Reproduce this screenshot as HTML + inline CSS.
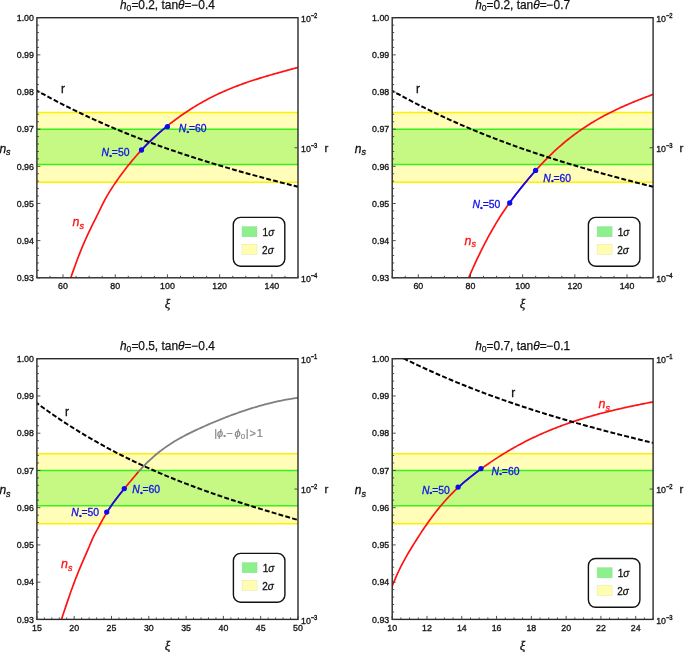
<!DOCTYPE html><html><head><meta charset="utf-8"><style>
html,body{margin:0;padding:0;background:#fff;overflow:hidden;width:685px;height:652px;}
svg{display:block;will-change:transform;filter:blur(0.3px);} text{font-family:"Liberation Sans", sans-serif;}
.tk{font-size:9.8px;fill:#151515;stroke:#151515;stroke-width:0.35px;} .ax{font-size:12px;fill:#111;stroke:#111;stroke-width:0.3px;} .it{font-style:italic;} .ti{font-size:11.9px;fill:#111;stroke:#111;stroke-width:0.25px;} .lg{font-size:10px;fill:#111;stroke:#111;stroke-width:0.3px;}
.cl{font-size:10.4px;fill:#1010ee;stroke:#1010ee;stroke-width:0.3px;} 
</style></head><body>
<svg width="685" height="652" viewBox="0 0 685 652">
<clipPath id="c1"><rect x="36.9" y="17.7" width="261.10" height="260.10"/></clipPath>
<rect x="36.9" y="112.45" width="261.10" height="69.86" fill="#fffdb8"/>
<rect x="36.9" y="129.17" width="261.10" height="35.30" fill="#c5f984"/>
<line x1="36.9" x2="298.0" y1="112.45" y2="112.45" stroke="#fff000" stroke-width="1.5"/>
<line x1="36.9" x2="298.0" y1="182.31" y2="182.31" stroke="#fff000" stroke-width="1.5"/>
<line x1="36.9" x2="298.0" y1="129.17" y2="129.17" stroke="#3cee1c" stroke-width="1.5"/>
<line x1="36.9" x2="298.0" y1="164.47" y2="164.47" stroke="#3cee1c" stroke-width="1.5"/>
<g clip-path="url(#c1)">
<path d="M66.00,291.09 L67.51,286.93 L69.02,282.70 L70.53,278.43 L72.04,274.15 L73.55,269.88 L75.06,265.67 L76.57,261.53 L78.08,257.49 L79.59,253.59 L81.10,249.82 L82.61,246.18 L84.12,242.66 L85.63,239.24 L87.14,235.92 L88.65,232.69 L90.15,229.55 L91.66,226.46 L93.17,223.41 L94.68,220.38 L96.19,217.33 L97.70,214.25 L99.21,211.13 L100.72,208.03 L102.23,204.98 L103.74,202.01 L105.25,199.16 L106.76,196.45 L108.27,193.86 L109.78,191.37 L111.29,188.97 L112.80,186.65 L114.31,184.39 L115.82,182.18 L117.33,180.01 L118.84,177.88 L120.35,175.78 L121.86,173.72 L123.37,171.70 L124.88,169.71 L126.39,167.76 L127.90,165.84 L129.41,163.96 L130.92,162.11 L132.43,160.29 L133.94,158.51 L135.45,156.75 L136.95,155.03 L138.46,153.34 L139.97,151.67 L141.48,150.04 L142.99,148.43 L144.50,146.85 L146.01,145.30 L147.52,143.78 L149.03,142.28 L150.54,140.81 L152.05,139.36 L153.56,137.93 L155.07,136.53 L156.58,135.16 L158.09,133.80 L159.60,132.47 L161.11,131.16 L162.62,129.87 L164.13,128.59 L165.64,127.34 L167.15,126.11 L168.66,124.89 L170.17,123.70 L171.68,122.52 L173.19,121.36 L174.70,120.21 L176.21,119.08 L177.72,117.98 L179.23,116.88 L180.74,115.81 L182.25,114.75 L183.75,113.70 L185.26,112.68 L186.77,111.67 L188.28,110.67 L189.79,109.69 L191.30,108.73 L192.81,107.78 L194.32,106.85 L195.83,105.93 L197.34,105.02 L198.85,104.13 L200.36,103.26 L201.87,102.40 L203.38,101.55 L204.89,100.72 L206.40,99.90 L207.91,99.10 L209.42,98.31 L210.93,97.53 L212.44,96.77 L213.95,96.01 L215.46,95.28 L216.97,94.55 L218.48,93.83 L219.99,93.13 L221.50,92.44 L223.01,91.77 L224.52,91.10 L226.03,90.44 L227.54,89.80 L229.05,89.17 L230.55,88.54 L232.06,87.93 L233.57,87.33 L235.08,86.74 L236.59,86.15 L238.10,85.58 L239.61,85.01 L241.12,84.46 L242.63,83.91 L244.14,83.37 L245.65,82.84 L247.16,82.32 L248.67,81.80 L250.18,81.29 L251.69,80.79 L253.20,80.29 L254.71,79.81 L256.22,79.32 L257.73,78.85 L259.24,78.38 L260.75,77.91 L262.26,77.45 L263.77,76.99 L265.28,76.54 L266.79,76.10 L268.30,75.65 L269.81,75.22 L271.32,74.78 L272.83,74.35 L274.34,73.92 L275.85,73.50 L277.35,73.07 L278.86,72.65 L280.37,72.24 L281.88,71.82 L283.39,71.41 L284.90,70.99 L286.41,70.58 L287.92,70.17 L289.43,69.76 L290.94,69.35 L292.45,68.94 L293.96,68.53 L295.47,68.12 L296.98,67.71 L298.49,67.29 L300.00,66.88" stroke="#ff1212" stroke-width="1.7" fill="none" stroke-linejoin="round"/>
<path d="M141.50,150.02 L143.12,148.30 L144.74,146.61 L146.36,144.95 L147.97,143.33 L149.59,141.73 L151.21,140.16 L152.83,138.62 L154.45,137.11 L156.07,135.62 L157.69,134.16 L159.31,132.73 L160.93,131.32 L162.54,129.93 L164.16,128.57 L165.78,127.22 L167.40,125.90" stroke="#0c0cf0" stroke-width="1.7" fill="none" stroke-linejoin="round"/>
<path d="M35.00,89.54 L36.78,90.54 L38.55,91.54 L40.33,92.52 L42.10,93.51 L43.88,94.48 L45.66,95.45 L47.43,96.41 L49.21,97.37 L50.98,98.32 L52.76,99.26 L54.53,100.20 L56.31,101.13 L58.09,102.05 L59.86,102.97 L61.64,103.88 L63.41,104.79 L65.19,105.69 L66.97,106.58 L68.74,107.47 L70.52,108.35 L72.29,109.23 L74.07,110.10 L75.84,110.96 L77.62,111.82 L79.40,112.68 L81.17,113.52 L82.95,114.36 L84.72,115.20 L86.50,116.03 L88.28,116.86 L90.05,117.68 L91.83,118.49 L93.60,119.30 L95.38,120.10 L97.15,120.90 L98.93,121.69 L100.71,122.48 L102.48,123.26 L104.26,124.04 L106.03,124.81 L107.81,125.58 L109.59,126.34 L111.36,127.10 L113.14,127.85 L114.91,128.60 L116.69,129.34 L118.46,130.08 L120.24,130.81 L122.02,131.54 L123.79,132.27 L125.57,132.99 L127.34,133.70 L129.12,134.41 L130.90,135.12 L132.67,135.82 L134.45,136.51 L136.22,137.20 L138.00,137.89 L139.77,138.58 L141.55,139.25 L143.33,139.93 L145.10,140.60 L146.88,141.27 L148.65,141.93 L150.43,142.59 L152.21,143.24 L153.98,143.89 L155.76,144.54 L157.53,145.18 L159.31,145.82 L161.08,146.45 L162.86,147.08 L164.64,147.71 L166.41,148.33 L168.19,148.95 L169.96,149.57 L171.74,150.18 L173.52,150.79 L175.29,151.40 L177.07,152.00 L178.84,152.60 L180.62,153.19 L182.39,153.79 L184.17,154.37 L185.95,154.96 L187.72,155.54 L189.50,156.12 L191.27,156.70 L193.05,157.27 L194.83,157.84 L196.60,158.41 L198.38,158.97 L200.15,159.53 L201.93,160.09 L203.70,160.64 L205.48,161.20 L207.26,161.75 L209.03,162.29 L210.81,162.84 L212.58,163.38 L214.36,163.92 L216.14,164.45 L217.91,164.99 L219.69,165.52 L221.46,166.05 L223.24,166.57 L225.01,167.09 L226.79,167.62 L228.57,168.13 L230.34,168.65 L232.12,169.16 L233.89,169.67 L235.67,170.18 L237.45,170.69 L239.22,171.19 L241.00,171.70 L242.77,172.20 L244.55,172.69 L246.32,173.19 L248.10,173.68 L249.88,174.17 L251.65,174.66 L253.43,175.15 L255.20,175.63 L256.98,176.12 L258.76,176.60 L260.53,177.08 L262.31,177.55 L264.08,178.03 L265.86,178.50 L267.63,178.97 L269.41,179.44 L271.19,179.91 L272.96,180.38 L274.74,180.84 L276.51,181.30 L278.29,181.76 L280.07,182.22 L281.84,182.68 L283.62,183.14 L285.39,183.59 L287.17,184.04 L288.94,184.49 L290.72,184.94 L292.50,185.39 L294.27,185.84 L296.05,186.28 L297.82,186.73 L299.60,187.17" stroke="#000" stroke-width="2" fill="none" stroke-dasharray="4.9,2.2"/>
</g>
<rect x="36.9" y="17.7" width="261.10" height="260.10" fill="none" stroke="#2a2a2a" stroke-width="1.4"/>
<path d="M36.9,277.80h3.5M36.9,270.37h2.0M36.9,262.94h2.0M36.9,255.51h2.0M36.9,248.07h2.0M36.9,240.64h3.5M36.9,233.21h2.0M36.9,225.78h2.0M36.9,218.35h2.0M36.9,210.92h2.0M36.9,203.49h3.5M36.9,196.05h2.0M36.9,188.62h2.0M36.9,181.19h2.0M36.9,173.76h2.0M36.9,166.33h3.5M36.9,158.90h2.0M36.9,151.47h2.0M36.9,144.03h2.0M36.9,136.60h2.0M36.9,129.17h3.5M36.9,121.74h2.0M36.9,114.31h2.0M36.9,106.88h2.0M36.9,99.45h2.0M36.9,92.01h3.5M36.9,84.58h2.0M36.9,77.15h2.0M36.9,69.72h2.0M36.9,62.29h2.0M36.9,54.86h3.5M36.9,47.43h2.0M36.9,39.99h2.0M36.9,32.56h2.0M36.9,25.13h2.0M36.9,17.70h3.5M36.90,277.8v-2.0M49.95,277.8v-2.0M63.01,277.8v-3.5M76.06,277.8v-2.0M89.12,277.8v-2.0M102.18,277.8v-2.0M115.23,277.8v-3.5M128.28,277.8v-2.0M141.34,277.8v-2.0M154.40,277.8v-2.0M167.45,277.8v-3.5M180.51,277.8v-2.0M193.56,277.8v-2.0M206.62,277.8v-2.0M219.67,277.8v-3.5M232.73,277.8v-2.0M245.78,277.8v-2.0M258.83,277.8v-2.0M271.89,277.8v-3.5M284.94,277.8v-2.0M298.00,277.8v-2.0M298.0,147.75h-3.5" stroke="#3c3c3c" stroke-width="0.9" fill="none"/>
<text transform="translate(33.90,281.10) scale(0.9,1)" text-anchor="end" class="tk">0.93</text>
<text transform="translate(33.90,243.94) scale(0.9,1)" text-anchor="end" class="tk">0.94</text>
<text transform="translate(33.90,206.79) scale(0.9,1)" text-anchor="end" class="tk">0.95</text>
<text transform="translate(33.90,169.63) scale(0.9,1)" text-anchor="end" class="tk">0.96</text>
<text transform="translate(33.90,132.47) scale(0.9,1)" text-anchor="end" class="tk">0.97</text>
<text transform="translate(33.90,95.31) scale(0.9,1)" text-anchor="end" class="tk">0.98</text>
<text transform="translate(33.90,58.16) scale(0.9,1)" text-anchor="end" class="tk">0.99</text>
<text transform="translate(33.90,21.00) scale(0.9,1)" text-anchor="end" class="tk">1.00</text>
<text transform="translate(63.01,289.20) scale(0.9,1)" text-anchor="middle" class="tk">60</text>
<text transform="translate(115.23,289.20) scale(0.9,1)" text-anchor="middle" class="tk">80</text>
<text transform="translate(167.45,289.20) scale(0.9,1)" text-anchor="middle" class="tk">100</text>
<text transform="translate(219.67,289.20) scale(0.9,1)" text-anchor="middle" class="tk">120</text>
<text transform="translate(271.89,289.20) scale(0.9,1)" text-anchor="middle" class="tk">140</text>
<text transform="translate(301.10,21.90) scale(0.9,1)" class="tk">10<tspan dy="-3.8" font-size="6.6" dx="0.2">&#8722;</tspan><tspan font-size="6.6" dx="-0.5">2</tspan></text>
<text transform="translate(301.10,151.95) scale(0.9,1)" class="tk">10<tspan dy="-3.8" font-size="6.6" dx="0.2">&#8722;</tspan><tspan font-size="6.6" dx="-0.5">3</tspan></text>
<text transform="translate(301.10,282.00) scale(0.9,1)" class="tk">10<tspan dy="-3.8" font-size="6.6" dx="0.2">&#8722;</tspan><tspan font-size="6.6" dx="-0.5">4</tspan></text>
<text x="324.50" y="151.85" class="ax" style="font-size:11.5px">r</text>
<text x="-0.60" y="152.55" class="ax it">n<tspan font-size="9" dy="2.8">s</tspan></text>
<text x="167.45" y="308.00" text-anchor="middle" class="ax it" style="font-family:'Liberation Serif',serif;font-size:13px">&#958;</text>
<text x="167.45" y="9.00" text-anchor="middle" class="ti"><tspan font-style="italic">h</tspan><tspan font-size="8.6" dy="2.3">0</tspan><tspan dy="-2.3">=</tspan>0.2, tan<tspan font-style="italic">&#952;</tspan>=&#8722;0.4</text>
<rect x="233.3" y="217.4" width="51.5" height="48.8" rx="7.2" ry="7.2" fill="#fff" stroke="#111" stroke-width="1.4"/>
<rect x="242.00" y="226.60" width="15" height="10.2" fill="#8cf08c" stroke="#9ad89a" stroke-width="0.4"/>
<rect x="242.00" y="244.20" width="15" height="10.2" fill="#fffdb0" stroke="#e0e0a0" stroke-width="0.4"/>
<text x="262.60" y="236.30" class="lg">1<tspan font-style="italic">&#963;</tspan></text>
<text x="262.10" y="253.60" class="lg">2<tspan font-style="italic">&#963;</tspan></text>
<circle cx="141.5" cy="150.0" r="2.65" fill="#0c0cf0"/>
<circle cx="167.4" cy="126.7" r="2.65" fill="#0c0cf0"/>
<clipPath id="c2"><rect x="392.2" y="17.7" width="260.90" height="260.10"/></clipPath>
<rect x="392.2" y="112.45" width="260.90" height="69.86" fill="#fffdb8"/>
<rect x="392.2" y="129.17" width="260.90" height="35.30" fill="#c5f984"/>
<line x1="392.2" x2="653.1" y1="112.45" y2="112.45" stroke="#fff000" stroke-width="1.5"/>
<line x1="392.2" x2="653.1" y1="182.31" y2="182.31" stroke="#fff000" stroke-width="1.5"/>
<line x1="392.2" x2="653.1" y1="129.17" y2="129.17" stroke="#3cee1c" stroke-width="1.5"/>
<line x1="392.2" x2="653.1" y1="164.47" y2="164.47" stroke="#3cee1c" stroke-width="1.5"/>
<g clip-path="url(#c2)">
<path d="M464.00,288.96 L465.52,285.28 L467.03,281.65 L468.55,278.09 L470.06,274.58 L471.58,271.13 L473.10,267.74 L474.61,264.41 L476.13,261.13 L477.64,257.92 L479.16,254.76 L480.67,251.65 L482.19,248.61 L483.71,245.61 L485.22,242.68 L486.74,239.80 L488.25,236.97 L489.77,234.20 L491.29,231.49 L492.80,228.82 L494.32,226.21 L495.83,223.66 L497.35,221.16 L498.87,218.71 L500.38,216.31 L501.90,213.96 L503.41,211.67 L504.93,209.42 L506.44,207.23 L507.96,205.08 L509.48,202.96 L510.99,200.89 L512.51,198.84 L514.02,196.83 L515.54,194.84 L517.06,192.89 L518.57,190.95 L520.09,189.04 L521.60,187.16 L523.12,185.29 L524.63,183.43 L526.15,181.60 L527.67,179.78 L529.18,177.99 L530.70,176.21 L532.21,174.45 L533.73,172.71 L535.25,171.00 L536.76,169.30 L538.28,167.63 L539.79,165.97 L541.31,164.34 L542.83,162.74 L544.34,161.15 L545.86,159.59 L547.37,158.05 L548.89,156.54 L550.40,155.05 L551.92,153.59 L553.44,152.15 L554.95,150.74 L556.47,149.34 L557.98,147.98 L559.50,146.63 L561.02,145.31 L562.53,144.01 L564.05,142.73 L565.56,141.47 L567.08,140.24 L568.60,139.02 L570.11,137.83 L571.63,136.65 L573.14,135.50 L574.66,134.37 L576.17,133.25 L577.69,132.16 L579.21,131.08 L580.72,130.02 L582.24,128.98 L583.75,127.96 L585.27,126.95 L586.79,125.96 L588.30,124.99 L589.82,124.03 L591.33,123.09 L592.85,122.17 L594.37,121.26 L595.88,120.37 L597.40,119.49 L598.91,118.62 L600.43,117.77 L601.94,116.93 L603.46,116.11 L604.98,115.30 L606.49,114.50 L608.01,113.71 L609.52,112.94 L611.04,112.17 L612.56,111.42 L614.07,110.68 L615.59,109.95 L617.10,109.23 L618.62,108.53 L620.13,107.83 L621.65,107.14 L623.17,106.45 L624.68,105.78 L626.20,105.12 L627.71,104.46 L629.23,103.81 L630.75,103.17 L632.26,102.54 L633.78,101.91 L635.29,101.29 L636.81,100.67 L638.33,100.06 L639.84,99.46 L641.36,98.86 L642.87,98.27 L644.39,97.68 L645.90,97.09 L647.42,96.51 L648.94,95.93 L650.45,95.35 L651.97,94.78 L653.48,94.21 L655.00,93.64" stroke="#ff1212" stroke-width="1.7" fill="none" stroke-linejoin="round"/>
<path d="M509.70,202.65 L511.32,200.44 L512.94,198.27 L514.56,196.13 L516.17,194.02 L517.79,191.94 L519.41,189.89 L521.03,187.87 L522.65,185.86 L524.27,183.88 L525.89,181.92 L527.51,179.98 L529.12,178.06 L530.74,176.16 L532.36,174.28 L533.98,172.43 L535.60,170.60" stroke="#0c0cf0" stroke-width="1.7" fill="none" stroke-linejoin="round"/>
<path d="M390.10,89.54 L391.88,90.54 L393.65,91.54 L395.43,92.52 L397.20,93.51 L398.98,94.48 L400.76,95.45 L402.53,96.41 L404.31,97.37 L406.08,98.32 L407.86,99.26 L409.63,100.20 L411.41,101.13 L413.19,102.05 L414.96,102.97 L416.74,103.88 L418.51,104.79 L420.29,105.69 L422.07,106.58 L423.84,107.47 L425.62,108.35 L427.39,109.23 L429.17,110.10 L430.94,110.96 L432.72,111.82 L434.50,112.68 L436.27,113.52 L438.05,114.36 L439.82,115.20 L441.60,116.03 L443.38,116.86 L445.15,117.68 L446.93,118.49 L448.70,119.30 L450.48,120.10 L452.25,120.90 L454.03,121.69 L455.81,122.48 L457.58,123.26 L459.36,124.04 L461.13,124.81 L462.91,125.58 L464.69,126.34 L466.46,127.10 L468.24,127.85 L470.01,128.60 L471.79,129.34 L473.56,130.08 L475.34,130.81 L477.12,131.54 L478.89,132.27 L480.67,132.99 L482.44,133.70 L484.22,134.41 L486.00,135.12 L487.77,135.82 L489.55,136.51 L491.32,137.20 L493.10,137.89 L494.87,138.58 L496.65,139.25 L498.43,139.93 L500.20,140.60 L501.98,141.27 L503.75,141.93 L505.53,142.59 L507.31,143.24 L509.08,143.89 L510.86,144.54 L512.63,145.18 L514.41,145.82 L516.18,146.45 L517.96,147.08 L519.74,147.71 L521.51,148.33 L523.29,148.95 L525.06,149.57 L526.84,150.18 L528.62,150.79 L530.39,151.40 L532.17,152.00 L533.94,152.60 L535.72,153.19 L537.49,153.79 L539.27,154.37 L541.05,154.96 L542.82,155.54 L544.60,156.12 L546.37,156.70 L548.15,157.27 L549.93,157.84 L551.70,158.41 L553.48,158.97 L555.25,159.53 L557.03,160.09 L558.80,160.64 L560.58,161.20 L562.36,161.75 L564.13,162.29 L565.91,162.84 L567.68,163.38 L569.46,163.92 L571.24,164.45 L573.01,164.99 L574.79,165.52 L576.56,166.05 L578.34,166.57 L580.11,167.09 L581.89,167.62 L583.67,168.13 L585.44,168.65 L587.22,169.16 L588.99,169.67 L590.77,170.18 L592.55,170.69 L594.32,171.19 L596.10,171.70 L597.87,172.20 L599.65,172.69 L601.42,173.19 L603.20,173.68 L604.98,174.17 L606.75,174.66 L608.53,175.15 L610.30,175.63 L612.08,176.12 L613.86,176.60 L615.63,177.08 L617.41,177.55 L619.18,178.03 L620.96,178.50 L622.73,178.97 L624.51,179.44 L626.29,179.91 L628.06,180.38 L629.84,180.84 L631.61,181.30 L633.39,181.76 L635.17,182.22 L636.94,182.68 L638.72,183.14 L640.49,183.59 L642.27,184.04 L644.04,184.49 L645.82,184.94 L647.60,185.39 L649.37,185.84 L651.15,186.28 L652.92,186.73 L654.70,187.17" stroke="#000" stroke-width="2" fill="none" stroke-dasharray="4.9,2.2"/>
</g>
<rect x="392.2" y="17.7" width="260.90" height="260.10" fill="none" stroke="#2a2a2a" stroke-width="1.4"/>
<path d="M392.2,277.80h3.5M392.2,270.37h2.0M392.2,262.94h2.0M392.2,255.51h2.0M392.2,248.07h2.0M392.2,240.64h3.5M392.2,233.21h2.0M392.2,225.78h2.0M392.2,218.35h2.0M392.2,210.92h2.0M392.2,203.49h3.5M392.2,196.05h2.0M392.2,188.62h2.0M392.2,181.19h2.0M392.2,173.76h2.0M392.2,166.33h3.5M392.2,158.90h2.0M392.2,151.47h2.0M392.2,144.03h2.0M392.2,136.60h2.0M392.2,129.17h3.5M392.2,121.74h2.0M392.2,114.31h2.0M392.2,106.88h2.0M392.2,99.45h2.0M392.2,92.01h3.5M392.2,84.58h2.0M392.2,77.15h2.0M392.2,69.72h2.0M392.2,62.29h2.0M392.2,54.86h3.5M392.2,47.43h2.0M392.2,39.99h2.0M392.2,32.56h2.0M392.2,25.13h2.0M392.2,17.70h3.5M392.20,277.8v-2.0M405.25,277.8v-2.0M418.29,277.8v-3.5M431.33,277.8v-2.0M444.38,277.8v-2.0M457.43,277.8v-2.0M470.47,277.8v-3.5M483.51,277.8v-2.0M496.56,277.8v-2.0M509.61,277.8v-2.0M522.65,277.8v-3.5M535.70,277.8v-2.0M548.74,277.8v-2.0M561.79,277.8v-2.0M574.83,277.8v-3.5M587.88,277.8v-2.0M600.92,277.8v-2.0M613.97,277.8v-2.0M627.01,277.8v-3.5M640.06,277.8v-2.0M653.10,277.8v-2.0M653.1,147.75h-3.5" stroke="#3c3c3c" stroke-width="0.9" fill="none"/>
<text transform="translate(389.20,281.10) scale(0.9,1)" text-anchor="end" class="tk">0.93</text>
<text transform="translate(389.20,243.94) scale(0.9,1)" text-anchor="end" class="tk">0.94</text>
<text transform="translate(389.20,206.79) scale(0.9,1)" text-anchor="end" class="tk">0.95</text>
<text transform="translate(389.20,169.63) scale(0.9,1)" text-anchor="end" class="tk">0.96</text>
<text transform="translate(389.20,132.47) scale(0.9,1)" text-anchor="end" class="tk">0.97</text>
<text transform="translate(389.20,95.31) scale(0.9,1)" text-anchor="end" class="tk">0.98</text>
<text transform="translate(389.20,58.16) scale(0.9,1)" text-anchor="end" class="tk">0.99</text>
<text transform="translate(389.20,21.00) scale(0.9,1)" text-anchor="end" class="tk">1.00</text>
<text transform="translate(418.29,289.20) scale(0.9,1)" text-anchor="middle" class="tk">60</text>
<text transform="translate(470.47,289.20) scale(0.9,1)" text-anchor="middle" class="tk">80</text>
<text transform="translate(522.65,289.20) scale(0.9,1)" text-anchor="middle" class="tk">100</text>
<text transform="translate(574.83,289.20) scale(0.9,1)" text-anchor="middle" class="tk">120</text>
<text transform="translate(627.01,289.20) scale(0.9,1)" text-anchor="middle" class="tk">140</text>
<text transform="translate(656.20,21.90) scale(0.9,1)" class="tk">10<tspan dy="-3.8" font-size="6.6" dx="0.2">&#8722;</tspan><tspan font-size="6.6" dx="-0.5">2</tspan></text>
<text transform="translate(656.20,151.95) scale(0.9,1)" class="tk">10<tspan dy="-3.8" font-size="6.6" dx="0.2">&#8722;</tspan><tspan font-size="6.6" dx="-0.5">3</tspan></text>
<text transform="translate(656.20,282.00) scale(0.9,1)" class="tk">10<tspan dy="-3.8" font-size="6.6" dx="0.2">&#8722;</tspan><tspan font-size="6.6" dx="-0.5">4</tspan></text>
<text x="679.60" y="151.85" class="ax" style="font-size:11.5px">r</text>
<text x="354.70" y="152.55" class="ax it">n<tspan font-size="9" dy="2.8">s</tspan></text>
<text x="522.65" y="308.00" text-anchor="middle" class="ax it" style="font-family:'Liberation Serif',serif;font-size:13px">&#958;</text>
<text x="522.65" y="9.00" text-anchor="middle" class="ti"><tspan font-style="italic">h</tspan><tspan font-size="8.6" dy="2.3">0</tspan><tspan dy="-2.3">=</tspan>0.2, tan<tspan font-style="italic">&#952;</tspan>=&#8722;0.7</text>
<rect x="588.4" y="217.4" width="51.5" height="48.8" rx="7.2" ry="7.2" fill="#fff" stroke="#111" stroke-width="1.4"/>
<rect x="597.10" y="226.60" width="15" height="10.2" fill="#8cf08c" stroke="#9ad89a" stroke-width="0.4"/>
<rect x="597.10" y="244.20" width="15" height="10.2" fill="#fffdb0" stroke="#e0e0a0" stroke-width="0.4"/>
<text x="617.70" y="236.30" class="lg">1<tspan font-style="italic">&#963;</tspan></text>
<text x="617.20" y="253.60" class="lg">2<tspan font-style="italic">&#963;</tspan></text>
<circle cx="509.7" cy="203.0" r="2.65" fill="#0c0cf0"/>
<circle cx="535.6" cy="170.4" r="2.65" fill="#0c0cf0"/>
<clipPath id="c3"><rect x="36.9" y="358.7" width="261.10" height="260.70"/></clipPath>
<rect x="36.9" y="453.67" width="261.10" height="70.02" fill="#fffdb8"/>
<rect x="36.9" y="470.43" width="261.10" height="35.38" fill="#c5f984"/>
<line x1="36.9" x2="298.0" y1="453.67" y2="453.67" stroke="#fff000" stroke-width="1.5"/>
<line x1="36.9" x2="298.0" y1="523.69" y2="523.69" stroke="#fff000" stroke-width="1.5"/>
<line x1="36.9" x2="298.0" y1="470.43" y2="470.43" stroke="#3cee1c" stroke-width="1.5"/>
<line x1="36.9" x2="298.0" y1="505.81" y2="505.81" stroke="#3cee1c" stroke-width="1.5"/>
<g clip-path="url(#c3)">
<path d="M57.00,633.12 L58.54,628.39 L60.07,623.67 L61.61,618.98 L63.14,614.32 L64.68,609.70 L66.22,605.14 L67.75,600.63 L69.29,596.20 L70.82,591.84 L72.36,587.57 L73.89,583.39 L75.43,579.32 L76.97,575.36 L78.50,571.52 L80.04,567.80 L81.57,564.19 L83.11,560.65 L84.65,557.15 L86.18,553.65 L87.72,550.12 L89.25,546.52 L90.79,542.82 L92.32,539.14 L93.86,535.82 L95.40,532.85 L96.93,530.06 L98.47,527.33 L100.00,524.53 L101.54,521.70 L103.08,518.90 L104.61,516.21 L106.15,513.63 L107.68,511.15 L109.22,508.78 L110.75,506.48 L112.29,504.27 L113.83,502.12 L115.36,500.03 L116.90,497.99 L118.43,496.00 L119.97,494.04 L121.51,492.12 L123.04,490.23 L124.58,488.35 L126.11,486.50 L127.65,484.65 L129.18,482.82 L130.72,480.98 L132.26,479.14 L133.79,477.30 L135.33,475.47 L136.86,473.66 L138.40,471.88" stroke="#ff1212" stroke-width="1.7" fill="none" stroke-linejoin="round"/>
<path d="M138.40,471.88 L139.92,470.16 L141.45,468.49 L142.97,466.86 L144.50,465.27 L146.02,463.73 L147.55,462.23 L149.07,460.76 L150.60,459.34 L152.12,457.96 L153.65,456.61 L155.17,455.30 L156.69,454.02 L158.22,452.78 L159.74,451.57 L161.27,450.40 L162.79,449.25 L164.32,448.14 L165.84,447.05 L167.37,446.00 L168.89,444.97 L170.42,443.96 L171.94,442.98 L173.46,442.03 L174.99,441.10 L176.51,440.19 L178.04,439.30 L179.56,438.43 L181.09,437.59 L182.61,436.76 L184.14,435.94 L185.66,435.14 L187.18,434.36 L188.71,433.59 L190.23,432.84 L191.76,432.09 L193.28,431.36 L194.81,430.64 L196.33,429.92 L197.86,429.22 L199.38,428.52 L200.91,427.83 L202.43,427.14 L203.95,426.46 L205.48,425.78 L207.00,425.11 L208.53,424.45 L210.05,423.79 L211.58,423.14 L213.10,422.49 L214.63,421.85 L216.15,421.21 L217.68,420.58 L219.20,419.96 L220.72,419.34 L222.25,418.73 L223.77,418.13 L225.30,417.53 L226.82,416.94 L228.35,416.36 L229.87,415.78 L231.40,415.21 L232.92,414.65 L234.45,414.09 L235.97,413.54 L237.49,412.99 L239.02,412.46 L240.54,411.93 L242.07,411.41 L243.59,410.89 L245.12,410.38 L246.64,409.88 L248.17,409.39 L249.69,408.90 L251.22,408.42 L252.74,407.95 L254.26,407.49 L255.79,407.03 L257.31,406.58 L258.84,406.14 L260.36,405.71 L261.89,405.29 L263.41,404.87 L264.94,404.46 L266.46,404.06 L267.98,403.67 L269.51,403.28 L271.03,402.91 L272.56,402.54 L274.08,402.18 L275.61,401.83 L277.13,401.48 L278.66,401.15 L280.18,400.82 L281.71,400.51 L283.23,400.20 L284.75,399.90 L286.28,399.61 L287.80,399.33 L289.33,399.05 L290.85,398.79 L292.38,398.54 L293.90,398.29 L295.43,398.05 L296.95,397.83 L298.48,397.61 L300.00,397.40" stroke="#7f7f7f" stroke-width="1.8" fill="none" stroke-linejoin="round"/>
<path d="M106.80,512.57 L108.52,509.85 L110.24,507.24 L111.96,504.74 L113.68,502.32 L115.40,499.98 L117.12,497.70 L118.84,495.48 L120.56,493.30 L122.28,491.16 L124.00,489.05" stroke="#0c0cf0" stroke-width="1.7" fill="none" stroke-linejoin="round"/>
<path d="M35.00,401.77 L36.77,403.09 L38.55,404.40 L40.32,405.69 L42.10,406.98 L43.87,408.26 L45.65,409.53 L47.42,410.79 L49.20,412.03 L50.97,413.27 L52.74,414.50 L54.52,415.72 L56.29,416.93 L58.07,418.13 L59.84,419.32 L61.62,420.50 L63.39,421.67 L65.17,422.83 L66.94,423.98 L68.72,425.13 L70.49,426.26 L72.26,427.39 L74.04,428.50 L75.81,429.61 L77.59,430.71 L79.36,431.80 L81.14,432.88 L82.91,433.95 L84.69,435.02 L86.46,436.07 L88.23,437.12 L90.01,438.16 L91.78,439.19 L93.56,440.21 L95.33,441.22 L97.11,442.23 L98.88,443.23 L100.66,444.22 L102.43,445.20 L104.21,446.17 L105.98,447.14 L107.75,448.10 L109.53,449.05 L111.30,449.99 L113.08,450.93 L114.85,451.85 L116.63,452.78 L118.40,453.69 L120.18,454.60 L121.95,455.49 L123.72,456.39 L125.50,457.27 L127.27,458.15 L129.05,459.02 L130.82,459.88 L132.60,460.74 L134.37,461.59 L136.15,462.44 L137.92,463.27 L139.70,464.10 L141.47,464.93 L143.24,465.75 L145.02,466.56 L146.79,467.36 L148.57,468.16 L150.34,468.95 L152.12,469.74 L153.89,470.52 L155.67,471.30 L157.44,472.07 L159.21,472.83 L160.99,473.59 L162.76,474.34 L164.54,475.08 L166.31,475.82 L168.09,476.56 L169.86,477.29 L171.64,478.01 L173.41,478.73 L175.19,479.45 L176.96,480.16 L178.73,480.86 L180.51,481.56 L182.28,482.25 L184.06,482.94 L185.83,483.62 L187.61,484.30 L189.38,484.98 L191.16,485.65 L192.93,486.31 L194.70,486.97 L196.48,487.63 L198.25,488.28 L200.03,488.93 L201.80,489.57 L203.58,490.21 L205.35,490.85 L207.13,491.48 L208.90,492.11 L210.68,492.73 L212.45,493.35 L214.22,493.97 L216.00,494.58 L217.77,495.19 L219.55,495.79 L221.32,496.39 L223.10,496.99 L224.87,497.59 L226.65,498.18 L228.42,498.77 L230.19,499.35 L231.97,499.93 L233.74,500.51 L235.52,501.09 L237.29,501.66 L239.07,502.23 L240.84,502.80 L242.62,503.36 L244.39,503.92 L246.17,504.48 L247.94,505.04 L249.71,505.59 L251.49,506.15 L253.26,506.70 L255.04,507.24 L256.81,507.79 L258.59,508.33 L260.36,508.87 L262.14,509.41 L263.91,509.95 L265.68,510.48 L267.46,511.02 L269.23,511.55 L271.01,512.08 L272.78,512.61 L274.56,513.14 L276.33,513.66 L278.11,514.19 L279.88,514.71 L281.66,515.23 L283.43,515.75 L285.20,516.27 L286.98,516.79 L288.75,517.30 L290.53,517.82 L292.30,518.34 L294.08,518.85 L295.85,519.36 L297.63,519.88 L299.40,520.39" stroke="#000" stroke-width="2" fill="none" stroke-dasharray="4.9,2.2"/>
</g>
<rect x="36.9" y="358.7" width="261.10" height="260.70" fill="none" stroke="#2a2a2a" stroke-width="1.4"/>
<path d="M36.9,619.40h3.5M36.9,611.95h2.0M36.9,604.50h2.0M36.9,597.05h2.0M36.9,589.61h2.0M36.9,582.16h3.5M36.9,574.71h2.0M36.9,567.26h2.0M36.9,559.81h2.0M36.9,552.36h2.0M36.9,544.91h3.5M36.9,537.47h2.0M36.9,530.02h2.0M36.9,522.57h2.0M36.9,515.12h2.0M36.9,507.67h3.5M36.9,500.22h2.0M36.9,492.77h2.0M36.9,485.33h2.0M36.9,477.88h2.0M36.9,470.43h3.5M36.9,462.98h2.0M36.9,455.53h2.0M36.9,448.08h2.0M36.9,440.63h2.0M36.9,433.19h3.5M36.9,425.74h2.0M36.9,418.29h2.0M36.9,410.84h2.0M36.9,403.39h2.0M36.9,395.94h3.5M36.9,388.49h2.0M36.9,381.05h2.0M36.9,373.60h2.0M36.9,366.15h2.0M36.9,358.70h3.5M36.90,619.4v-3.5M44.36,619.4v-2.0M51.82,619.4v-2.0M59.28,619.4v-2.0M66.74,619.4v-2.0M74.20,619.4v-3.5M81.66,619.4v-2.0M89.12,619.4v-2.0M96.58,619.4v-2.0M104.04,619.4v-2.0M111.50,619.4v-3.5M118.96,619.4v-2.0M126.42,619.4v-2.0M133.88,619.4v-2.0M141.34,619.4v-2.0M148.80,619.4v-3.5M156.26,619.4v-2.0M163.72,619.4v-2.0M171.18,619.4v-2.0M178.64,619.4v-2.0M186.10,619.4v-3.5M193.56,619.4v-2.0M201.02,619.4v-2.0M208.48,619.4v-2.0M215.94,619.4v-2.0M223.40,619.4v-3.5M230.86,619.4v-2.0M238.32,619.4v-2.0M245.78,619.4v-2.0M253.24,619.4v-2.0M260.70,619.4v-3.5M268.16,619.4v-2.0M275.62,619.4v-2.0M283.08,619.4v-2.0M290.54,619.4v-2.0M298.00,619.4v-3.5M298.0,489.05h-3.5" stroke="#3c3c3c" stroke-width="0.9" fill="none"/>
<text transform="translate(33.90,622.70) scale(0.9,1)" text-anchor="end" class="tk">0.93</text>
<text transform="translate(33.90,585.46) scale(0.9,1)" text-anchor="end" class="tk">0.94</text>
<text transform="translate(33.90,548.21) scale(0.9,1)" text-anchor="end" class="tk">0.95</text>
<text transform="translate(33.90,510.97) scale(0.9,1)" text-anchor="end" class="tk">0.96</text>
<text transform="translate(33.90,473.73) scale(0.9,1)" text-anchor="end" class="tk">0.97</text>
<text transform="translate(33.90,436.49) scale(0.9,1)" text-anchor="end" class="tk">0.98</text>
<text transform="translate(33.90,399.24) scale(0.9,1)" text-anchor="end" class="tk">0.99</text>
<text transform="translate(33.90,362.00) scale(0.9,1)" text-anchor="end" class="tk">1.00</text>
<text transform="translate(36.90,630.80) scale(0.9,1)" text-anchor="middle" class="tk">15</text>
<text transform="translate(74.20,630.80) scale(0.9,1)" text-anchor="middle" class="tk">20</text>
<text transform="translate(111.50,630.80) scale(0.9,1)" text-anchor="middle" class="tk">25</text>
<text transform="translate(148.80,630.80) scale(0.9,1)" text-anchor="middle" class="tk">30</text>
<text transform="translate(186.10,630.80) scale(0.9,1)" text-anchor="middle" class="tk">35</text>
<text transform="translate(223.40,630.80) scale(0.9,1)" text-anchor="middle" class="tk">40</text>
<text transform="translate(260.70,630.80) scale(0.9,1)" text-anchor="middle" class="tk">45</text>
<text transform="translate(298.00,630.80) scale(0.9,1)" text-anchor="middle" class="tk">50</text>
<text transform="translate(301.10,362.90) scale(0.9,1)" class="tk">10<tspan dy="-3.8" font-size="6.6" dx="0.2">&#8722;</tspan><tspan font-size="6.6" dx="-0.5">1</tspan></text>
<text transform="translate(301.10,493.25) scale(0.9,1)" class="tk">10<tspan dy="-3.8" font-size="6.6" dx="0.2">&#8722;</tspan><tspan font-size="6.6" dx="-0.5">2</tspan></text>
<text transform="translate(301.10,623.60) scale(0.9,1)" class="tk">10<tspan dy="-3.8" font-size="6.6" dx="0.2">&#8722;</tspan><tspan font-size="6.6" dx="-0.5">3</tspan></text>
<text x="324.50" y="493.15" class="ax" style="font-size:11.5px">r</text>
<text x="-0.60" y="493.85" class="ax it">n<tspan font-size="9" dy="2.8">s</tspan></text>
<text x="167.45" y="649.60" text-anchor="middle" class="ax it" style="font-family:'Liberation Serif',serif;font-size:13px">&#958;</text>
<text x="167.45" y="350.00" text-anchor="middle" class="ti"><tspan font-style="italic">h</tspan><tspan font-size="8.6" dy="2.3">0</tspan><tspan dy="-2.3">=</tspan>0.5, tan<tspan font-style="italic">&#952;</tspan>=&#8722;0.4</text>
<rect x="233.4" y="553.4" width="51.5" height="48.8" rx="7.2" ry="7.2" fill="#fff" stroke="#111" stroke-width="1.4"/>
<rect x="242.10" y="562.60" width="15" height="10.2" fill="#8cf08c" stroke="#9ad89a" stroke-width="0.4"/>
<rect x="242.10" y="580.20" width="15" height="10.2" fill="#fffdb0" stroke="#e0e0a0" stroke-width="0.4"/>
<text x="262.70" y="572.30" class="lg">1<tspan font-style="italic">&#963;</tspan></text>
<text x="262.20" y="589.60" class="lg">2<tspan font-style="italic">&#963;</tspan></text>
<circle cx="106.7" cy="512.1" r="2.65" fill="#0c0cf0"/>
<circle cx="124.3" cy="488.6" r="2.65" fill="#0c0cf0"/>
<clipPath id="c4"><rect x="392.2" y="358.7" width="260.90" height="260.70"/></clipPath>
<rect x="392.2" y="453.67" width="260.90" height="70.02" fill="#fffdb8"/>
<rect x="392.2" y="470.43" width="260.90" height="35.38" fill="#c5f984"/>
<line x1="392.2" x2="653.1" y1="453.67" y2="453.67" stroke="#fff000" stroke-width="1.5"/>
<line x1="392.2" x2="653.1" y1="523.69" y2="523.69" stroke="#fff000" stroke-width="1.5"/>
<line x1="392.2" x2="653.1" y1="470.43" y2="470.43" stroke="#3cee1c" stroke-width="1.5"/>
<line x1="392.2" x2="653.1" y1="505.81" y2="505.81" stroke="#3cee1c" stroke-width="1.5"/>
<g clip-path="url(#c4)">
<path d="M390.00,591.85 L391.51,587.82 L393.03,583.98 L394.54,580.31 L396.06,576.81 L397.57,573.46 L399.09,570.25 L400.60,567.17 L402.11,564.21 L403.63,561.35 L405.14,558.59 L406.66,555.91 L408.17,553.30 L409.69,550.75 L411.20,548.25 L412.71,545.79 L414.23,543.36 L415.74,540.95 L417.26,538.57 L418.77,536.21 L420.29,533.89 L421.80,531.59 L423.31,529.33 L424.83,527.10 L426.34,524.90 L427.86,522.74 L429.37,520.61 L430.89,518.52 L432.40,516.46 L433.91,514.44 L435.43,512.46 L436.94,510.53 L438.46,508.63 L439.97,506.77 L441.49,504.96 L443.00,503.18 L444.51,501.45 L446.03,499.76 L447.54,498.11 L449.06,496.49 L450.57,494.91 L452.09,493.37 L453.60,491.86 L455.11,490.38 L456.63,488.93 L458.14,487.51 L459.66,486.13 L461.17,484.77 L462.69,483.43 L464.20,482.12 L465.71,480.84 L467.23,479.58 L468.74,478.34 L470.26,477.12 L471.77,475.92 L473.29,474.74 L474.80,473.58 L476.31,472.43 L477.83,471.30 L479.34,470.18 L480.86,469.07 L482.37,467.97 L483.89,466.89 L485.40,465.81 L486.91,464.75 L488.43,463.70 L489.94,462.66 L491.46,461.63 L492.97,460.61 L494.49,459.61 L496.00,458.61 L497.51,457.63 L499.03,456.65 L500.54,455.69 L502.06,454.74 L503.57,453.81 L505.09,452.88 L506.60,451.96 L508.11,451.06 L509.63,450.17 L511.14,449.29 L512.66,448.42 L514.17,447.56 L515.69,446.71 L517.20,445.88 L518.71,445.05 L520.23,444.24 L521.74,443.43 L523.26,442.64 L524.77,441.85 L526.29,441.08 L527.80,440.32 L529.31,439.57 L530.83,438.82 L532.34,438.09 L533.86,437.37 L535.37,436.65 L536.89,435.95 L538.40,435.25 L539.91,434.57 L541.43,433.89 L542.94,433.22 L544.46,432.56 L545.97,431.91 L547.49,431.27 L549.00,430.64 L550.51,430.02 L552.03,429.40 L553.54,428.79 L555.06,428.20 L556.57,427.60 L558.09,427.02 L559.60,426.45 L561.11,425.88 L562.63,425.32 L564.14,424.77 L565.66,424.22 L567.17,423.69 L568.69,423.16 L570.20,422.64 L571.71,422.12 L573.23,421.61 L574.74,421.11 L576.26,420.62 L577.77,420.13 L579.29,419.65 L580.80,419.17 L582.31,418.70 L583.83,418.24 L585.34,417.78 L586.86,417.33 L588.37,416.89 L589.89,416.45 L591.40,416.01 L592.91,415.59 L594.43,415.16 L595.94,414.75 L597.46,414.33 L598.97,413.93 L600.49,413.53 L602.00,413.13 L603.51,412.74 L605.03,412.35 L606.54,411.97 L608.06,411.59 L609.57,411.21 L611.09,410.85 L612.60,410.48 L614.11,410.12 L615.63,409.76 L617.14,409.41 L618.66,409.06 L620.17,408.71 L621.69,408.37 L623.20,408.03 L624.71,407.69 L626.23,407.36 L627.74,407.03 L629.26,406.70 L630.77,406.38 L632.29,406.06 L633.80,405.74 L635.31,405.43 L636.83,405.11 L638.34,404.80 L639.86,404.49 L641.37,404.19 L642.89,403.88 L644.40,403.58 L645.91,403.28 L647.43,402.98 L648.94,402.68 L650.46,402.39 L651.97,402.09 L653.49,401.80 L655.00,401.51" stroke="#ff1212" stroke-width="1.7" fill="none" stroke-linejoin="round"/>
<path d="M458.10,487.55 L459.74,486.05 L461.39,484.57 L463.03,483.13 L464.67,481.72 L466.31,480.34 L467.96,478.98 L469.60,477.65 L471.24,476.34 L472.89,475.05 L474.53,473.78 L476.17,472.54 L477.81,471.31 L479.46,470.09 L481.10,468.89" stroke="#0c0cf0" stroke-width="1.7" fill="none" stroke-linejoin="round"/>
<path d="M403.50,358.34 L405.18,359.17 L406.87,359.99 L408.55,360.81 L410.23,361.62 L411.92,362.43 L413.60,363.23 L415.28,364.03 L416.97,364.82 L418.65,365.61 L420.33,366.40 L422.02,367.18 L423.70,367.95 L425.38,368.72 L427.07,369.49 L428.75,370.25 L430.43,371.01 L432.11,371.76 L433.80,372.51 L435.48,373.26 L437.16,374.00 L438.85,374.74 L440.53,375.47 L442.21,376.20 L443.90,376.92 L445.58,377.64 L447.26,378.35 L448.95,379.07 L450.63,379.77 L452.31,380.48 L454.00,381.18 L455.68,381.87 L457.36,382.56 L459.05,383.25 L460.73,383.93 L462.41,384.61 L464.10,385.29 L465.78,385.96 L467.46,386.63 L469.15,387.29 L470.83,387.95 L472.51,388.61 L474.20,389.26 L475.88,389.91 L477.56,390.56 L479.24,391.20 L480.93,391.84 L482.61,392.47 L484.29,393.10 L485.98,393.73 L487.66,394.35 L489.34,394.98 L491.03,395.59 L492.71,396.21 L494.39,396.82 L496.08,397.42 L497.76,398.03 L499.44,398.63 L501.13,399.23 L502.81,399.82 L504.49,400.41 L506.18,401.00 L507.86,401.58 L509.54,402.16 L511.23,402.74 L512.91,403.32 L514.59,403.89 L516.28,404.46 L517.96,405.02 L519.64,405.59 L521.33,406.15 L523.01,406.70 L524.69,407.26 L526.38,407.81 L528.06,408.35 L529.74,408.90 L531.42,409.44 L533.11,409.98 L534.79,410.52 L536.47,411.05 L538.16,411.59 L539.84,412.11 L541.52,412.64 L543.21,413.16 L544.89,413.68 L546.57,414.20 L548.26,414.72 L549.94,415.23 L551.62,415.74 L553.31,416.25 L554.99,416.76 L556.67,417.26 L558.36,417.76 L560.04,418.26 L561.72,418.76 L563.41,419.25 L565.09,419.74 L566.77,420.23 L568.46,420.72 L570.14,421.20 L571.82,421.69 L573.51,422.17 L575.19,422.65 L576.87,423.12 L578.56,423.60 L580.24,424.07 L581.92,424.54 L583.60,425.01 L585.29,425.47 L586.97,425.94 L588.65,426.40 L590.34,426.86 L592.02,427.32 L593.70,427.78 L595.39,428.23 L597.07,428.68 L598.75,429.14 L600.44,429.59 L602.12,430.03 L603.80,430.48 L605.49,430.92 L607.17,431.37 L608.85,431.81 L610.54,432.25 L612.22,432.69 L613.90,433.12 L615.59,433.56 L617.27,433.99 L618.95,434.43 L620.64,434.86 L622.32,435.29 L624.00,435.71 L625.69,436.14 L627.37,436.57 L629.05,436.99 L630.73,437.41 L632.42,437.84 L634.10,438.26 L635.78,438.67 L637.47,439.09 L639.15,439.51 L640.83,439.93 L642.52,440.34 L644.20,440.75 L645.88,441.17 L647.57,441.58 L649.25,441.99 L650.93,442.40 L652.62,442.81 L654.30,443.22" stroke="#000" stroke-width="2" fill="none" stroke-dasharray="4.9,2.2"/>
</g>
<rect x="392.2" y="358.7" width="260.90" height="260.70" fill="none" stroke="#2a2a2a" stroke-width="1.4"/>
<path d="M392.2,619.40h3.5M392.2,611.95h2.0M392.2,604.50h2.0M392.2,597.05h2.0M392.2,589.61h2.0M392.2,582.16h3.5M392.2,574.71h2.0M392.2,567.26h2.0M392.2,559.81h2.0M392.2,552.36h2.0M392.2,544.91h3.5M392.2,537.47h2.0M392.2,530.02h2.0M392.2,522.57h2.0M392.2,515.12h2.0M392.2,507.67h3.5M392.2,500.22h2.0M392.2,492.77h2.0M392.2,485.33h2.0M392.2,477.88h2.0M392.2,470.43h3.5M392.2,462.98h2.0M392.2,455.53h2.0M392.2,448.08h2.0M392.2,440.63h2.0M392.2,433.19h3.5M392.2,425.74h2.0M392.2,418.29h2.0M392.2,410.84h2.0M392.2,403.39h2.0M392.2,395.94h3.5M392.2,388.49h2.0M392.2,381.05h2.0M392.2,373.60h2.0M392.2,366.15h2.0M392.2,358.70h3.5M392.20,619.4v-3.5M400.90,619.4v-2.0M409.59,619.4v-2.0M418.29,619.4v-2.0M426.99,619.4v-3.5M435.68,619.4v-2.0M444.38,619.4v-2.0M453.08,619.4v-2.0M461.77,619.4v-3.5M470.47,619.4v-2.0M479.17,619.4v-2.0M487.86,619.4v-2.0M496.56,619.4v-3.5M505.26,619.4v-2.0M513.95,619.4v-2.0M522.65,619.4v-2.0M531.35,619.4v-3.5M540.04,619.4v-2.0M548.74,619.4v-2.0M557.44,619.4v-2.0M566.13,619.4v-3.5M574.83,619.4v-2.0M583.53,619.4v-2.0M592.22,619.4v-2.0M600.92,619.4v-3.5M609.62,619.4v-2.0M618.31,619.4v-2.0M627.01,619.4v-2.0M635.71,619.4v-3.5M644.40,619.4v-2.0M653.10,619.4v-2.0M653.1,489.05h-3.5" stroke="#3c3c3c" stroke-width="0.9" fill="none"/>
<text transform="translate(389.20,622.70) scale(0.9,1)" text-anchor="end" class="tk">0.93</text>
<text transform="translate(389.20,585.46) scale(0.9,1)" text-anchor="end" class="tk">0.94</text>
<text transform="translate(389.20,548.21) scale(0.9,1)" text-anchor="end" class="tk">0.95</text>
<text transform="translate(389.20,510.97) scale(0.9,1)" text-anchor="end" class="tk">0.96</text>
<text transform="translate(389.20,473.73) scale(0.9,1)" text-anchor="end" class="tk">0.97</text>
<text transform="translate(389.20,436.49) scale(0.9,1)" text-anchor="end" class="tk">0.98</text>
<text transform="translate(389.20,399.24) scale(0.9,1)" text-anchor="end" class="tk">0.99</text>
<text transform="translate(389.20,362.00) scale(0.9,1)" text-anchor="end" class="tk">1.00</text>
<text transform="translate(392.20,630.80) scale(0.9,1)" text-anchor="middle" class="tk">10</text>
<text transform="translate(426.99,630.80) scale(0.9,1)" text-anchor="middle" class="tk">12</text>
<text transform="translate(461.77,630.80) scale(0.9,1)" text-anchor="middle" class="tk">14</text>
<text transform="translate(496.56,630.80) scale(0.9,1)" text-anchor="middle" class="tk">16</text>
<text transform="translate(531.35,630.80) scale(0.9,1)" text-anchor="middle" class="tk">18</text>
<text transform="translate(566.13,630.80) scale(0.9,1)" text-anchor="middle" class="tk">20</text>
<text transform="translate(600.92,630.80) scale(0.9,1)" text-anchor="middle" class="tk">22</text>
<text transform="translate(635.71,630.80) scale(0.9,1)" text-anchor="middle" class="tk">24</text>
<text transform="translate(656.20,362.90) scale(0.9,1)" class="tk">10<tspan dy="-3.8" font-size="6.6" dx="0.2">&#8722;</tspan><tspan font-size="6.6" dx="-0.5">1</tspan></text>
<text transform="translate(656.20,493.25) scale(0.9,1)" class="tk">10<tspan dy="-3.8" font-size="6.6" dx="0.2">&#8722;</tspan><tspan font-size="6.6" dx="-0.5">2</tspan></text>
<text transform="translate(656.20,623.60) scale(0.9,1)" class="tk">10<tspan dy="-3.8" font-size="6.6" dx="0.2">&#8722;</tspan><tspan font-size="6.6" dx="-0.5">3</tspan></text>
<text x="679.60" y="493.15" class="ax" style="font-size:11.5px">r</text>
<text x="354.70" y="493.85" class="ax it">n<tspan font-size="9" dy="2.8">s</tspan></text>
<text x="522.65" y="649.60" text-anchor="middle" class="ax it" style="font-family:'Liberation Serif',serif;font-size:13px">&#958;</text>
<text x="522.65" y="350.00" text-anchor="middle" class="ti"><tspan font-style="italic">h</tspan><tspan font-size="8.6" dy="2.3">0</tspan><tspan dy="-2.3">=</tspan>0.7, tan<tspan font-style="italic">&#952;</tspan>=&#8722;0.1</text>
<rect x="588.4" y="558.5" width="51.5" height="48.8" rx="7.2" ry="7.2" fill="#fff" stroke="#111" stroke-width="1.4"/>
<rect x="597.10" y="567.70" width="15" height="10.2" fill="#8cf08c" stroke="#9ad89a" stroke-width="0.4"/>
<rect x="597.10" y="585.30" width="15" height="10.2" fill="#fffdb0" stroke="#e0e0a0" stroke-width="0.4"/>
<text x="617.70" y="577.40" class="lg">1<tspan font-style="italic">&#963;</tspan></text>
<text x="617.20" y="594.70" class="lg">2<tspan font-style="italic">&#963;</tspan></text>
<circle cx="458.1" cy="487.1" r="2.65" fill="#0c0cf0"/>
<circle cx="481.0" cy="468.6" r="2.65" fill="#0c0cf0"/>
<text x="101.5" y="156.2" class="cl" fill="#0c0cf0"><tspan font-style="italic">N</tspan><tspan font-size="8" dy="1.6" dx="0.2">&#8226;</tspan><tspan dy="-1.6" dx="-0.2">=50</tspan></text>
<text x="178.7" y="132.2" class="cl" fill="#0c0cf0"><tspan font-style="italic">N</tspan><tspan font-size="8" dy="1.6" dx="0.2">&#8226;</tspan><tspan dy="-1.6" dx="-0.2">=60</tspan></text>
<text x="61" y="92.8" class="ax">r</text>
<text x="72.5" y="226.3" class="ax it" style="fill:#ff1212;stroke:#ff1212;font-size:12.4px">n<tspan font-size="9" dy="2.8">s</tspan></text>
<text x="472.4" y="208.2" class="cl" fill="#0c0cf0"><tspan font-style="italic">N</tspan><tspan font-size="8" dy="1.6" dx="0.2">&#8226;</tspan><tspan dy="-1.6" dx="-0.2">=50</tspan></text>
<text x="543.2" y="181.5" class="cl" fill="#0c0cf0"><tspan font-style="italic">N</tspan><tspan font-size="8" dy="1.6" dx="0.2">&#8226;</tspan><tspan dy="-1.6" dx="-0.2">=60</tspan></text>
<text x="416" y="92.8" class="ax">r</text>
<text x="464.6" y="244.5" class="ax it" style="fill:#ff1212;stroke:#ff1212;font-size:12.4px">n<tspan font-size="9" dy="2.8">s</tspan></text>
<text x="71.2" y="516.0" class="cl" fill="#0c0cf0"><tspan font-style="italic">N</tspan><tspan font-size="8" dy="1.6" dx="0.2">&#8226;</tspan><tspan dy="-1.6" dx="-0.2">=50</tspan></text>
<text x="132.2" y="493.2" class="cl" fill="#0c0cf0"><tspan font-style="italic">N</tspan><tspan font-size="8" dy="1.6" dx="0.2">&#8226;</tspan><tspan dy="-1.6" dx="-0.2">=60</tspan></text>
<text x="64.9" y="415.8" class="ax">r</text>
<text x="61" y="567.8" class="ax it" style="fill:#ff1212;stroke:#ff1212;font-size:12.4px">n<tspan font-size="9" dy="2.8">s</tspan></text>
<text x="421.9" y="493.5" class="cl" fill="#0c0cf0"><tspan font-style="italic">N</tspan><tspan font-size="8" dy="1.6" dx="0.2">&#8226;</tspan><tspan dy="-1.6" dx="-0.2">=50</tspan></text>
<text x="491.5" y="474.6" class="cl" fill="#0c0cf0"><tspan font-style="italic">N</tspan><tspan font-size="8" dy="1.6" dx="0.2">&#8226;</tspan><tspan dy="-1.6" dx="-0.2">=60</tspan></text>
<text x="511.2" y="396.9" class="ax">r</text>
<text x="598.6" y="408.2" class="ax it" style="fill:#ff1212;stroke:#ff1212;font-size:12.4px">n<tspan font-size="9" dy="2.8">s</tspan></text>
<text x="214.2" y="436.8" style="font-size:11px;fill:#858585;stroke:#858585;stroke-width:0.2px">|<tspan font-style="italic">&#981;</tspan><tspan font-size="7.5" dy="1.6">&#8226;</tspan><tspan dy="-1.6" dx="0.4">&#8722;</tspan><tspan font-style="italic" dx="1.9">&#981;</tspan><tspan font-size="7.8" dy="1.8">0</tspan><tspan dy="-1.8" dx="0.6">|</tspan><tspan dx="0.9">&gt;</tspan><tspan dx="0.8">1</tspan></text>
</svg></body></html>
